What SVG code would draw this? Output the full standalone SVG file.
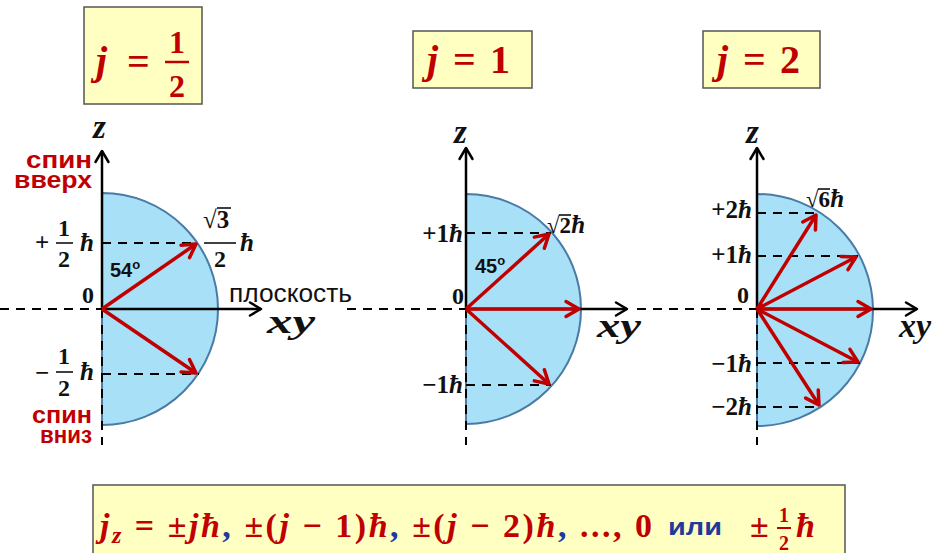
<svg xmlns="http://www.w3.org/2000/svg" width="932" height="553" viewBox="0 0 932 553">
<style>
.box{fill:#ffffc2;stroke:#555;stroke-width:1.5}
.m{font-family:"Liberation Serif","DejaVu Serif",serif;font-weight:bold}
.i{font-style:italic}
.red{fill:#c00000}
.blk{fill:#111}
.blue{fill:#1f3a9c}
.s{font-family:"Liberation Sans","DejaVu Sans",sans-serif;font-weight:bold}
.half{fill:#a8e0f7;stroke:#4a7aa6;stroke-width:2}
.ax{stroke:#000;stroke-width:2.5;fill:none;marker-end:url(#ka)}
.dash{stroke:#000;stroke-width:2;stroke-dasharray:9 7;fill:none}
.vec{stroke:#c00000;stroke-width:3.5;fill:none;marker-end:url(#ra)}
.bar{stroke:#111;stroke-width:1.6}
</style>
<defs>
<marker id="ra" markerUnits="userSpaceOnUse" viewBox="-18 -12 22 24" markerWidth="22" markerHeight="24" refX="0" refY="0" orient="auto"><path d="M-13,-7.5 L0,0 L-13,7.5" fill="none" stroke="#c00000" stroke-width="3.5" stroke-linecap="round" stroke-linejoin="round"/></marker>
<marker id="ka" markerUnits="userSpaceOnUse" viewBox="-18 -12 22 24" markerWidth="22" markerHeight="24" refX="0" refY="0" orient="auto"><path d="M-11,-6.5 L0,0 L-11,6.5" fill="none" stroke="#000" stroke-width="2.5" stroke-linecap="round" stroke-linejoin="round"/></marker>
</defs>
<rect width="932" height="553" fill="#fff"/>

<!-- titles -->
<g id="title-half">
<rect class="box" x="84" y="7" width="118" height="97"/>
<text class="m i red" x="96" y="74" font-size="40">j</text>
<text class="m red" x="127" y="75" font-size="40">=</text>
<text class="m red" x="177" y="53" font-size="32" text-anchor="middle">1</text>
<line x1="165" y1="62" x2="189" y2="62" stroke="#c00000" stroke-width="2.5"/>
<text class="m red" x="177" y="97" font-size="32" text-anchor="middle">2</text>
</g>
<g id="title-one">
<rect class="box" x="413" y="31" width="119" height="57"/>
<text class="m red" x="427" y="73" font-size="40"><tspan class="i">j</tspan><tspan x="453">=</tspan><tspan x="490">1</tspan></text>
</g>
<g id="title-two">
<rect class="box" x="703" y="31" width="117" height="57"/>
<text class="m red" x="717" y="73" font-size="40"><tspan class="i">j</tspan><tspan x="743">=</tspan><tspan x="780">2</tspan></text>
</g>

<!-- horizontal dashed plane line -->
<g id="plane">
<line class="dash" x1="0" y1="309" x2="102" y2="309"/>
<line class="dash" x1="347" y1="309" x2="466" y2="309"/>
<line class="dash" x1="637" y1="309" x2="757" y2="309"/>
</g>

<!-- panel 1 -->
<g id="panel-half">
<path class="half" d="M102,193 A116,116 0 0 1 102,425 Z"/>
<line class="dash" x1="102" y1="309" x2="102" y2="445"/>
<line class="dash" x1="102" y1="243" x2="198" y2="243"/>
<line class="dash" x1="102" y1="374" x2="199" y2="374"/>
<line class="ax" x1="102" y1="309" x2="102" y2="151"/>
<line class="ax" x1="102" y1="309" x2="261" y2="309"/>
<text class="m i blk" x="93" y="138" font-size="33">z</text>
<text class="s red" x="92" y="168" font-size="23" text-anchor="end" textLength="66" lengthAdjust="spacingAndGlyphs">спин</text>
<text class="s red" x="92" y="188" font-size="23" text-anchor="end" textLength="78" lengthAdjust="spacingAndGlyphs">вверх</text>
<text class="s red" x="92" y="423" font-size="23" text-anchor="end" textLength="60" lengthAdjust="spacingAndGlyphs">спин</text>
<text class="s red" x="92" y="443" font-size="23" text-anchor="end" textLength="52" lengthAdjust="spacingAndGlyphs">вниз</text>
<text class="m blk" x="35" y="251" font-size="25">+</text>
<text class="m blk" x="64" y="236" font-size="24" text-anchor="middle">1</text>
<line class="bar" x1="56" y1="243" x2="73" y2="243"/>
<text class="m blk" x="64" y="267" font-size="24" text-anchor="middle">2</text>
<text class="m i blk" x="80" y="251" font-size="25">ħ</text>
<text class="m blk" x="35" y="381" font-size="25">−</text>
<text class="m blk" x="64" y="364" font-size="24" text-anchor="middle">1</text>
<line class="bar" x1="56" y1="372" x2="73" y2="372"/>
<text class="m blk" x="64" y="396" font-size="24" text-anchor="middle">2</text>
<text class="m i blk" x="80" y="380" font-size="25">ħ</text>
<text class="m blk" x="203" y="228" font-size="25">√3</text>
<line class="bar" x1="217" y1="208" x2="231" y2="208"/>
<line class="bar" x1="204" y1="243" x2="236" y2="243"/>
<text class="m blk" x="220" y="267" font-size="24" text-anchor="middle">2</text>
<text class="m i blk" x="240" y="251" font-size="25">ħ</text>
<text class="s blk" x="110" y="277" font-size="20">54<tspan font-size="13" dy="-8">o</tspan></text>
<text class="m blk" x="82" y="303" font-size="24">0</text>
<text font-family="Liberation Sans, DejaVu Sans, sans-serif" fill="#111" x="229" y="302" font-size="26" textLength="123" lengthAdjust="spacingAndGlyphs">плоскость</text>
<text class="m i blk" x="267" y="333" font-size="34" textLength="48" lengthAdjust="spacingAndGlyphs">xy</text>
</g>

<!-- panel 2 -->
<g id="panel-one">
<path class="half" d="M466,194 A115,115 0 0 1 466,424 Z"/>
<line class="dash" x1="466" y1="309" x2="466" y2="445"/>
<line class="dash" x1="466" y1="233" x2="551" y2="233"/>
<line class="dash" x1="466" y1="385" x2="551" y2="385"/>
<line class="ax" x1="466" y1="309" x2="627" y2="309"/>
<line class="ax" x1="466" y1="309" x2="466" y2="148"/>
<text class="m i blk" x="454" y="143" font-size="33">z</text>
<text class="m blk" x="463" y="242" font-size="25" text-anchor="end">+1<tspan class="i">ħ</tspan></text>
<text class="m blk" x="463" y="393" font-size="25" text-anchor="end">−1<tspan class="i">ħ</tspan></text>
<text class="m blk" x="547" y="233" font-size="23">√2<tspan class="i" font-size="25">ħ</tspan></text>
<line class="bar" x1="559" y1="215" x2="571" y2="215"/>
<text class="s blk" x="475" y="273" font-size="20">45<tspan font-size="13" dy="-8">o</tspan></text>
<text class="m blk" x="452" y="304" font-size="24">0</text>
<text class="m i blk" x="597" y="337" font-size="34" textLength="44" lengthAdjust="spacingAndGlyphs">xy</text>
</g>

<!-- panel 3 -->
<g id="panel-two">
<path class="half" d="M757,194 A116,116 0 0 1 757,426 Z"/>
<line class="dash" x1="757" y1="309" x2="757" y2="445"/>
<line class="dash" x1="757" y1="213" x2="818" y2="213"/>
<line class="dash" x1="757" y1="256" x2="858" y2="256"/>
<line class="dash" x1="757" y1="363" x2="860" y2="363"/>
<line class="dash" x1="757" y1="407" x2="821" y2="407"/>
<line class="ax" x1="757" y1="309" x2="917" y2="309"/>
<line class="ax" x1="757" y1="309" x2="757" y2="148"/>
<text class="m i blk" x="746" y="143" font-size="33">z</text>
<text class="m blk" x="752" y="218" font-size="25" text-anchor="end">+2<tspan class="i">ħ</tspan></text>
<text class="m blk" x="752" y="263" font-size="25" text-anchor="end">+1<tspan class="i">ħ</tspan></text>
<text class="m blk" x="752" y="372" font-size="25" text-anchor="end">−1<tspan class="i">ħ</tspan></text>
<text class="m blk" x="752" y="415" font-size="25" text-anchor="end">−2<tspan class="i">ħ</tspan></text>
<text class="m blk" x="806" y="207" font-size="23">√6<tspan class="i" font-size="25">ħ</tspan></text>
<line class="bar" x1="818" y1="189" x2="830" y2="189"/>
<text class="m blk" x="737" y="303" font-size="24">0</text>
<text class="m i blk" x="899" y="337" font-size="34">xy</text>
</g>

<!-- vectors -->
<g id="vectors">
<line class="vec" x1="102" y1="309" x2="196" y2="244"/>
<line class="vec" x1="102" y1="309" x2="196" y2="373"/>
<line class="vec" x1="466" y1="309" x2="549" y2="234"/>
<line class="vec" x1="466" y1="309" x2="579" y2="309"/>
<line class="vec" x1="466" y1="309" x2="549" y2="384"/>
<line class="vec" x1="757" y1="309" x2="816" y2="215"/>
<line class="vec" x1="757" y1="309" x2="856" y2="257"/>
<line class="vec" x1="757" y1="309" x2="871" y2="309"/>
<line class="vec" x1="757" y1="309" x2="858" y2="362"/>
<line class="vec" x1="757" y1="309" x2="819" y2="405"/>
</g>

<!-- formula -->
<g id="formula">
<rect class="box" x="93" y="485" width="752" height="80"/>
<text class="m red" x="100" y="537" font-size="34" textLength="552" lengthAdjust="spacing"><tspan class="i">j</tspan><tspan class="i" font-size="24" dy="6">z</tspan><tspan dy="-6"> = ±</tspan><tspan class="i">jħ</tspan><tspan class="blue">,</tspan> ±(<tspan class="i">j</tspan> − 1)<tspan class="i">ħ</tspan><tspan class="blue">,</tspan> ±(<tspan class="i">j</tspan> − 2)<tspan class="i">ħ</tspan><tspan class="blue">,</tspan> ..., 0</text>
<text class="s blue" x="668" y="535" font-size="24" textLength="54" lengthAdjust="spacingAndGlyphs">или</text>
<text class="m red" x="750" y="537" font-size="34">±</text>
<text class="m red" x="784" y="522" font-size="20" text-anchor="middle">1</text>
<line x1="777" y1="528" x2="791" y2="528" stroke="#c00000" stroke-width="2"/>
<text class="m red" x="784" y="550" font-size="20" text-anchor="middle">2</text>
<text class="m i red" x="796" y="537" font-size="34">ħ</text>
</g>
</svg>
